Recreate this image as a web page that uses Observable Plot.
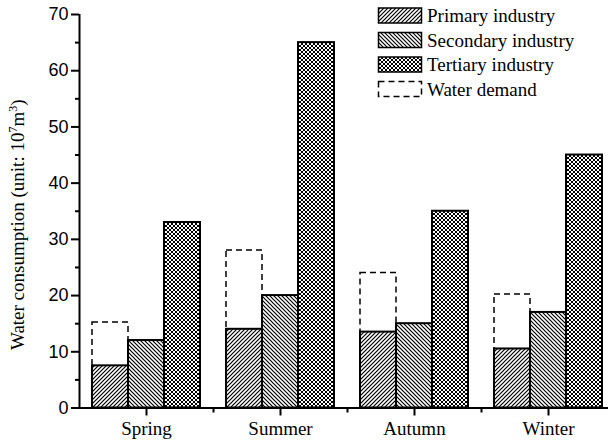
<!DOCTYPE html>
<html>
<head>
<meta charset="utf-8">
<script src="https://cdn.jsdelivr.net/npm/d3@7"></script>
<script src="https://cdn.jsdelivr.net/npm/@observablehq/plot@0.6"></script>
<style>
  html, body { margin: 0; padding: 0; background: #fff; overflow: hidden; width: 608px; height: 445px; }
  #chart svg { display: block; max-width: none !important; }
</style>
</head>
<body>
<div id="chart"></div>
<script>
const seasons = ["Spring", "Summer", "Autumn", "Winter"];
const industries = ["Primary industry", "Secondary industry", "Tertiary industry"];
const primary = [7.5, 14, 13.5, 10.5];
const secondary = [12, 20, 15, 17];
const tertiary = [33, 65, 35, 45];
const demand = [15.2, 28, 24, 20.2];
const yMajorTicks = [0, 10, 20, 30, 40, 50, 60, 70];
const yMinorTicks = [5, 15, 25, 35, 45, 55, 65];
const legendLabels = ["Primary industry", "Secondary industry", "Tertiary industry", "Water demand"];
const patternIds = ["pPrimary", "pSecondary", "pTertiary"];

const seriesValues = [primary, secondary, tertiary];
const bars = [];
seasons.forEach((s, i) => {
  industries.forEach((ind, k) => {
    bars.push({season: s, industry: ind, value: seriesValues[k][i], fill: `url(#${patternIds[k]})`});
  });
});
const demandRows = seasons.map((s, i) => ({season: s, industry: industries[0], value: demand[i]}));

const plot = Plot.plot({
  width: 622,
  height: 445,
  marginLeft: 79,
  marginRight: 7,
  marginTop: 14,
  marginBottom: 37.5,
  style: {background: "white", overflow: "visible", maxWidth: "none"},
  fx: {domain: seasons, paddingInner: 0, paddingOuter: 0, label: null, axis: null},
  x: {domain: industries, paddingInner: 0, paddingOuter: 0.361, axis: null, label: null},
  y: {domain: [0, 70], axis: null, label: null},
  color: {type: "identity"},
  marks: [
    Plot.barY(demandRows, {fx: "season", x: "industry", y: "value", fill: "none", stroke: "black", strokeWidth: 1.5, strokeDasharray: "6,4"}),
    Plot.barY(bars, {fx: "season", x: "industry", y: "value", fill: "fill", stroke: "black", strokeWidth: 2}),
    Plot.ruleY([0], {stroke: "black", strokeWidth: 2}),
    Plot.axisY({ticks: yMajorTicks, tickSize: 8, tickPadding: 3, label: null, fontSize: 18, fontFamily: "Liberation Sans", strokeWidth: 2}),
    Plot.axisY({ticks: yMinorTicks, tickSize: 4, tickFormat: () => "", label: null, strokeWidth: 2}),
    Plot.axisFx({anchor: "bottom", tickSize: 8, tickPadding: 5, label: null, fontSize: 19, fontFamily: "Liberation Serif", strokeWidth: 2})
  ]
});

document.getElementById("chart").appendChild(plot);

const svg = d3.select(plot);
const yS = plot.scale("y");
const fxS = plot.scale("fx");
const y0 = yS.apply(0);
const yTop = yS.apply(70);
const xLeft = fxS.range[0];

// patterns
const defs = svg.insert("defs", ":first-child");
function pattern(id, draw) {
  const p = defs.append("pattern").attr("id", id).attr("patternUnits", "userSpaceOnUse").attr("width", 4).attr("height", 4);
  p.append("rect").attr("width", 4).attr("height", 4).attr("fill", "white");
  draw(p);
}
pattern("pPrimary", p => p.append("path").attr("d", "M-1,1L1,-1M0,4L4,0M3,5L5,3").attr("stroke", "black").attr("stroke-width", 1.2));
pattern("pSecondary", p => p.append("path").attr("d", "M-1,3L1,5M0,0L4,4M3,-1L5,1").attr("stroke", "black").attr("stroke-width", 1.2));
pattern("pTertiary", p => p.append("path").attr("d", "M-1,1L1,-1M0,4L4,0M3,5L5,3M-1,3L1,5M0,0L4,4M3,-1L5,1").attr("stroke", "black").attr("stroke-width", 1.0));

// axis domain line (left)
svg.append("line").attr("x1", xLeft + 0.5).attr("x2", xLeft + 0.5).attr("y1", yTop).attr("y2", y0 + 1.5)
  .attr("stroke", "black").attr("stroke-width", 2);

// minor x ticks at season boundaries
seasons.forEach((s, i) => {
  if (i === 0) return;
  const xb = fxS.apply(s);
  svg.append("line").attr("x1", xb + 0.5).attr("x2", xb + 0.5).attr("y1", y0).attr("y2", y0 + 5)
    .attr("stroke", "black").attr("stroke-width", 2);
});

// y axis label
const lab = svg.append("text")
  .attr("transform", `translate(24,${(y0 + yTop) / 2 + 14}) rotate(-90)`)
  .attr("text-anchor", "middle")
  .attr("font-family", "Liberation Serif")
  .attr("font-size", 19)
  .attr("fill", "black");
lab.append("tspan").text("Water consumption (unit: 10");
lab.append("tspan").attr("dy", -7).attr("font-size", 12).text("7");
lab.append("tspan").attr("dy", 7).text("m");
lab.append("tspan").attr("dy", -7).attr("font-size", 12).text("3");
lab.append("tspan").attr("dy", 7).text(")");

// legend
const lg = svg.append("g").attr("font-family", "Liberation Serif").attr("font-size", 19).attr("text-anchor", "start");
legendLabels.forEach((t, i) => {
  const y = 8 + i * 24.5;
  const r = lg.append("rect").attr("x", 378.5).attr("y", y).attr("width", 43).attr("height", 15)
    .attr("stroke", "black");
  if (i < 3) r.attr("fill", `url(#${patternIds[i]})`).attr("stroke-width", 1.5);
  else r.attr("fill", "none").attr("stroke-width", 1.5).attr("stroke-dasharray", "6,4");
  lg.append("text").attr("x", 427).attr("y", y + 14).attr("text-anchor", "start").attr("fill", "black").text(t);
});
</script>
</body>
</html>
